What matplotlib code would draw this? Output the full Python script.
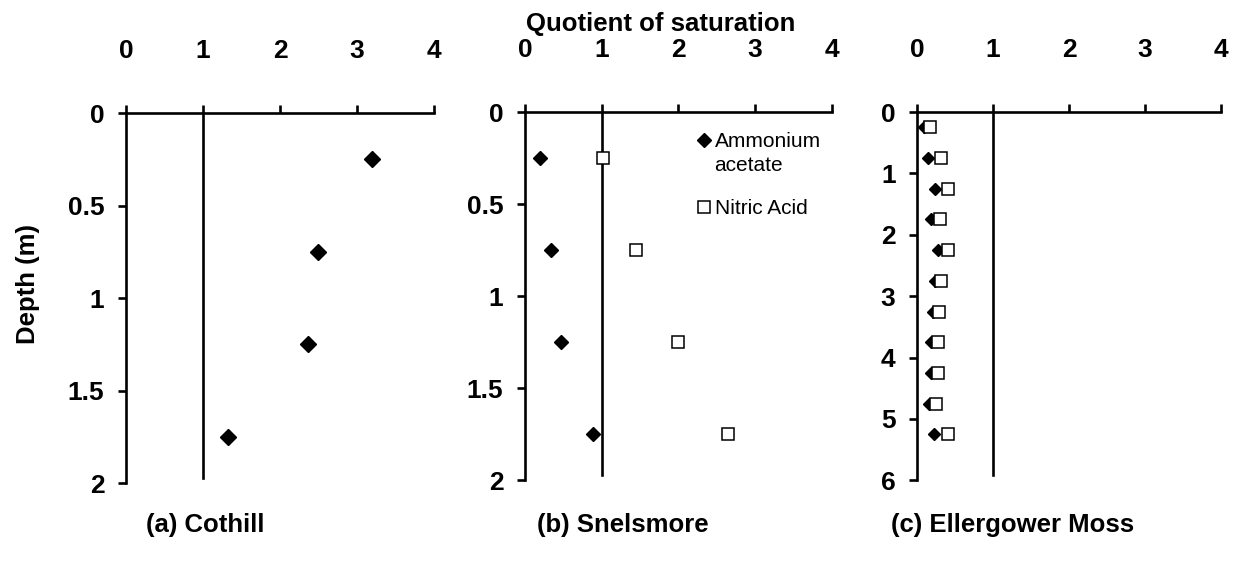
import numpy as np
import matplotlib
matplotlib.use("Agg")
import matplotlib.pyplot as plt
from matplotlib.lines import Line2D

plt.rcParams['font.family'] = ['Liberation Sans', 'DejaVu Sans']

# depths (m) at the middle of each sampled layer
depth_cothill = [0.25, 0.75, 1.25, 1.75]
depth_snelsmore = [0.25, 0.75, 1.25, 1.75]
depth_ellergower = [0.25, 0.75, 1.25, 1.75, 2.25, 2.75, 3.25, 3.75, 4.25, 4.75, 5.25]

# quotient of saturation
cothill_ammonium = [3.20, 2.50, 2.36, 1.33]
snelsmore_ammonium = [0.19, 0.34, 0.47, 0.88]
snelsmore_nitric = [1.01, 1.45, 2.00, 2.65]
ellergower_ammonium = [0.09, 0.15, 0.24, 0.19, 0.28, 0.23, 0.21, 0.19, 0.19, 0.16, 0.22]
ellergower_nitric = [0.17, 0.32, 0.41, 0.30, 0.41, 0.32, 0.29, 0.28, 0.28, 0.25, 0.41]

panel_titles = ['(a) Cothill', '(b) Snelsmore', '(c) Ellergower Moss']
x_ticks = [0, 1, 2, 3, 4]
y_ticks_short = [0, 0.5, 1, 1.5, 2]
y_labels_short = ['0', '0.5', '1', '1.5', '2']
y_ticks_long = [0, 1, 2, 3, 4, 5, 6]

LW = 1.9
TICKFONT = dict(fontsize=19, fontweight='bold')


def style_axis(ax, ymax, yticks, ylabels):
    ax.set_xlim(0, 4)
    ax.set_ylim(ymax, 0)
    for s in ['right', 'bottom']:
        ax.spines[s].set_visible(False)
    for s in ['top', 'left']:
        ax.spines[s].set_linewidth(LW)
    ax.xaxis.set_ticks_position('top')
    ax.xaxis.set_label_position('top')
    ax.set_xticks(x_ticks)
    ax.set_xticklabels([str(t) for t in x_ticks], **TICKFONT)
    ax.set_yticks(yticks)
    ax.set_yticklabels(ylabels, **TICKFONT)
    ax.tick_params(axis='x', direction='out', length=5.5, width=LW, pad=30.5)
    ax.tick_params(axis='y', direction='out', length=5.5, width=LW, pad=10)
    ax.axvline(1, ymin=0.015, ymax=1, color='black', lw=LW)
    ax.patch.set_alpha(0)


fig = plt.figure(figsize=(12.59, 5.69), dpi=100)

ax1 = fig.add_axes([0.1001, 0.151, 0.2446, 0.650])
ax2 = fig.add_axes([0.4170, 0.156, 0.2438, 0.647])
ax3 = fig.add_axes([0.7284, 0.156, 0.2415, 0.647])

# (a) Cothill
style_axis(ax1, 2, y_ticks_short, y_labels_short)
ax1.plot(cothill_ammonium, depth_cothill, linestyle='none', marker='D',
         ms=8, color='black', clip_on=False)

# (b) Snelsmore
style_axis(ax2, 2, y_ticks_short, y_labels_short)
ax2.plot(snelsmore_ammonium, depth_snelsmore, linestyle='none', marker='D',
         ms=7, color='black', clip_on=False)
ax2.plot(snelsmore_nitric, depth_snelsmore, linestyle='none', marker='s',
         ms=8.5, mfc='white', mec='black', mew=1.1, clip_on=False)

# legend: diamond sits on the first line of the wrapped label, as in Excel
handles = [Line2D([], [], linestyle='none', marker='D', ms=7.5, color='black'),
           Line2D([], [], linestyle='none', marker=None),
           Line2D([], [], linestyle='none', marker=None),
           Line2D([], [], linestyle='none', marker='s', ms=8.5, mfc='white',
                  mec='black', mew=1.1)]
leg = ax2.legend(handles, ['Ammonium', 'acetate', ' ', 'Nitric Acid'],
                 loc='upper left', bbox_to_anchor=(0.56, 0.945), frameon=False,
                 fontsize=15, handlelength=0.7, handletextpad=0.15,
                 labelspacing=0.2, borderpad=0, borderaxespad=0)
leg.get_texts()[2].set_fontsize(5)

# (c) Ellergower Moss
style_axis(ax3, 6, y_ticks_long, [str(t) for t in y_ticks_long])
ax3.plot(ellergower_ammonium, depth_ellergower, linestyle='none', marker='D',
         ms=6.5, color='black', clip_on=False)
ax3.plot(ellergower_nitric, depth_ellergower, linestyle='none', marker='s',
         ms=8.5, mfc='white', mec='black', mew=1.1, clip_on=False)

fig.text(0.525, 0.958, 'Quotient of saturation', ha='center', va='center',
         fontsize=18.5, fontweight='bold')
fig.text(0.022, 0.50, 'Depth (m)', ha='center', va='center', rotation=90,
         fontsize=18.5, fontweight='bold')
for xc, title in zip([0.163, 0.495, 0.804], panel_titles):
    fig.text(xc, 0.077, title, ha='center', va='center', fontsize=18.5,
             fontweight='bold')

fig.savefig('out.png', dpi=100)
